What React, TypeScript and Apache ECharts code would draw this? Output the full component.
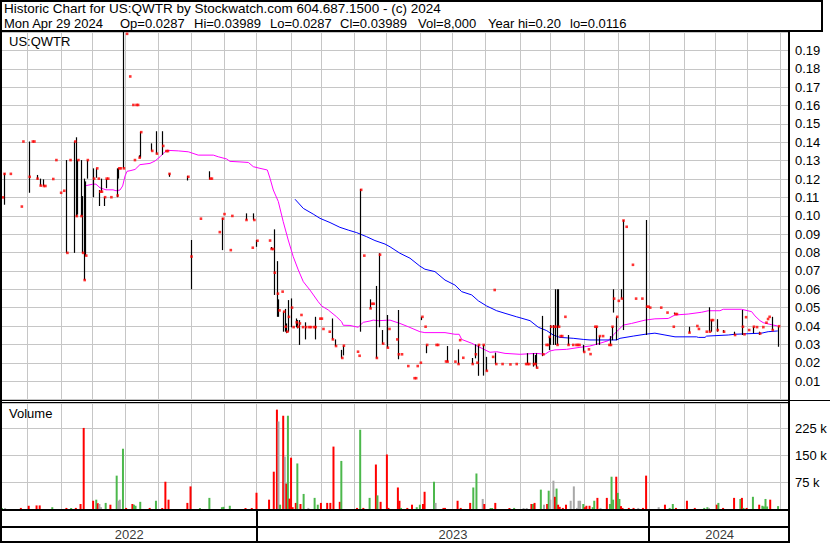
import React, { useEffect, useRef } from 'react';
import * as echarts from 'echarts';

// x positions are trading-session indices counted from the left edge of the chart
const X_MAX = 501.6;
const monthLines = [16.1, 37.4, 57.5, 78.5, 99.5, 120.5, 141.3, 162.1, 184.4, 203.5, 224.2, 244.4, 266.4, 286.8, 307.8, 329.7, 349.3, 370.7, 392, 412, 434.3, 454, 474.4, 495.6];
const yearStarts = [0, 162.1, 412];
const yearLabels = ['2022', '2023', '2024'];

// [session, high, low, close]  (two entries = single trade price)
const bars2022: number[][] = [
  [0, 0.110], [1, 0.1232, 0.106, 0.1228], [5, 0.1228], [12, 0.105], [13, 0.1404],
  [17, 0.1404, 0.1125, 0.1212], [19, 0.1404], [20, 0.1404], [22, 0.1222, 0.1198, 0.1202],
  [24, 0.1202, 0.1164, 0.1164], [26, 0.1198, 0.1162, 0.1162], [27, 0.1162], [32, 0.12],
  [34, 0.1303], [37, 0.1125], [39, 0.1136], [41, 0.1303, 0.0798, 0.0798], [43, 0.1303],
  [46, 0.1404, 0.0798, 0.1404], [47, 0.1427, 0.0995, 0.0998], [48, 0.1303, 0.1006, 0.1303],
  [50, 0.1303, 0.0998, 0.0998], [51, 0.1107, 0.0798, 0.0798], [52, 0.1202, 0.065, 0.065],
  [53, 0.1187, 0.0783, 0.0783], [54, 0.1303, 0.1202, 0.1303], [58, 0.1258, 0.1101, 0.1202],
  [60, 0.1258, 0.1207, 0.1258], [61, 0.1202], [62, 0.114, 0.1053, 0.1131],
  [63, 0.1202, 0.1131, 0.1131], [65, 0.1101, 0.1053, 0.1101], [66, 0.12, 0.115, 0.1202],
  [67, 0.1202], [69, 0.1101], [73, 0.1258, 0.1101, 0.111], [74, 0.1258, 0.1202, 0.1258],
  [75, 0.1258], [77, 0.2, 0.1258, 0.1258], [79, 0.199], [81, 0.1758], [83, 0.1603],
  [84, 0.1303], [85, 0.1603], [86, 0.1603], [87, 0.1329, 0.1316, 0.1316],
  [88, 0.1457, 0.1316, 0.1455], [95, 0.1394, 0.1353, 0.1353], [98, 0.146, 0.1338, 0.1338],
  [102, 0.146, 0.1331, 0.138], [104, 0.1352], [105, 0.1352], [106, 0.1231, 0.1212, 0.1228],
  [118, 0.1217, 0.1192, 0.1212], [120, 0.0868, 0.06, 0.0778], [126, 0.0984],
  [132, 0.1242, 0.1198, 0.1202], [133, 0.1202], [138, 0.0911], [140, 0.0988, 0.0813, 0.0984],
  [141, 0.1009], [145, 0.0813], [146, 0.0999], [155, 0.1013, 0.0977, 0.0977], [159, 0.0826],
  [160, 0.1013, 0.0977, 0.0977],
];
const bars2023: number[][] = [
  [162, 0.0868, 0.0831, 0.0864], [170, 0.0865], [171, 0.083, 0.0819, 0.0819], [172, 0.0819],
  [173, 0.0926, 0.0569, 0.069], [175, 0.0753, 0.045, 0.0576], [176, 0.0545, 0.045, 0.0485],
  [178, 0.0587], [179, 0.0478, 0.0369, 0.0478], [180, 0.0493, 0.0369, 0.0396],
  [181, 0.0414, 0.0361, 0.0369], [182, 0.0541, 0.0369, 0.045], [184, 0.055, 0.0393, 0.05],
  [185, 0.0394], [187, 0.0441, 0.0393, 0.042], [188, 0.0432, 0.0387, 0.0396],
  [189, 0.0432, 0.0297, 0.0414], [190, 0.046], [191, 0.0394], [193, 0.042, 0.0327, 0.0394],
  [195, 0.0394], [196, 0.0394], [198, 0.0394], [199, 0.045, 0.0327, 0.0394], [202, 0.044],
  [203, 0.044], [204, 0.0384], [208, 0.0369], [210, 0.0441, 0.0327, 0.0327],
  [212, 0.0327, 0.0291, 0.0291], [216, 0.027, 0.0224, 0.0226], [217, 0.0293, 0.024, 0.0293],
  [226, 0.026], [227, 0.0238], [228, 0.1145, 0.0369, 0.1141], [230, 0.0783],
  [234, 0.0545, 0.0496, 0.0496], [235, 0.0521], [236, 0.0521], [238, 0.0618, 0.0224, 0.0226],
  [240, 0.0796, 0.0393, 0.0788], [242, 0.0378, 0.0302, 0.0304], [245, 0.046, 0.0282, 0.0282],
  [246, 0.0384], [251, 0.0327], [252, 0.0487, 0.0219, 0.0246], [254, 0.0246], [258, 0.0182],
  [262, 0.0116], [263, 0.0116], [264, 0.0182], [266, 0.02], [267, 0.045, 0.0432, 0.045],
  [269, 0.0396], [270, 0.0297, 0.0252, 0.0297], [276, 0.0297], [277, 0.0297], [282, 0.0207],
  [283, 0.0291, 0.0206, 0.0206], [288, 0.0206], [290, 0.0273, 0.0193, 0.0193], [291, 0.0323],
  [293, 0.0227], [299, 0.0226, 0.0193, 0.0193], [301, 0.03, 0.0224, 0.0246], [302, 0.02],
  [303, 0.0297, 0.0129, 0.0297], [306, 0.0297, 0.013, 0.0297], [308, 0.0232, 0.0156, 0.0156],
  [312, 0.0232], [313, 0.0596], [314, 0.0255, 0.0193, 0.0193], [318, 0.0193], [323, 0.0191],
  [327, 0.0193], [333, 0.0193], [334, 0.0252, 0.0193, 0.0193], [335, 0.0193],
  [338, 0.0252, 0.0179, 0.0193], [339, 0.0242, 0.0193, 0.0193], [340, 0.0252, 0.0173, 0.0173],
  [344, 0.0455, 0.0236, 0.0246], [346, 0.0297], [347, 0.0297], [348, 0.0341, 0.0269, 0.0341],
  [349, 0.0405, 0.0297, 0.0396], [351, 0.0405, 0.0297, 0.0396], [352, 0.06, 0.0297, 0.0396],
  [353, 0.06, 0.0297, 0.0297], [354, 0.06, 0.0396, 0.0396], [355, 0.0345], [356, 0.0345],
  [358, 0.045], [360, 0.0351, 0.0297, 0.0297], [363, 0.0297], [365, 0.0297], [366, 0.0297],
  [367, 0.0297], [370, 0.0297, 0.0259, 0.0259], [373, 0.0273], [374, 0.0247], [377, 0.0396],
  [378, 0.0396, 0.0297, 0.0396], [380, 0.0345, 0.0297, 0.0345], [382, 0.0345], [386, 0.0297],
  [387, 0.0345, 0.0297, 0.0297], [388, 0.0396, 0.0323, 0.0396], [389, 0.06, 0.0473, 0.0549],
  [391, 0.045, 0.0323, 0.045], [392, 0.0537], [394, 0.06, 0.0549, 0.0549],
  [395, 0.0977, 0.0378, 0.0974], [397, 0.094], [401, 0.0733], [403, 0.0549], [407, 0.0549],
  [410, 0.0977, 0.0351, 0.0505], [411, 0.0505],
];
const bars2024: number[][] = [
  [412, 0.05], [419, 0.05], [423, 0.0473], [427, 0.0396], [428, 0.0473, 0.0465, 0.0465],
  [429, 0.0465], [437, 0.0396, 0.0364, 0.0364], [442, 0.04], [443, 0.0384], [448, 0.0369],
  [450, 0.0502, 0.0369, 0.0369], [451, 0.0432, 0.0369, 0.0432], [452, 0.0432],
  [455, 0.0437, 0.0369, 0.0378], [459, 0.0378, 0.0364, 0.0369], [466, 0.0369, 0.0351, 0.0351],
  [471, 0.0487, 0.0351, 0.0396], [472, 0.0355], [473, 0.0448], [475, 0.0378],
  [478, 0.0396, 0.0361, 0.0396], [480, 0.0394], [482, 0.0369, 0.0351, 0.0359], [484, 0.0394],
  [486, 0.0418], [487, 0.0438], [488, 0.045], [490, 0.045, 0.0378, 0.0378],
  [494, 0.03989, 0.0287, 0.03989],
];

// [session, volume, direction: 1 up, -1 down, 0 unchanged]
const volume2022: number[][] = [
  [0, 3000, 1], [2, 2000, 0], [12, 3000, -1], [17, 9000, -1], [22, 10000, -1], [24, 10000, -1],
  [32, 5000, 1], [41, 3000, -1], [44, 2000, 1], [47, 3000, -1], [50, 14000, -1], [52, 226000, -1],
  [58, 23000, -1], [60, 26000, 1], [61, 16000, -1], [62, 14000, 0], [63, 5000, 0], [66, 17000, 1],
  [69, 12000, -1], [73, 93000, 1], [74, 23000, 0], [75, 26000, 0], [77, 168000, 1], [79, 3000, -1],
  [83, 14000, -1], [84, 12000, 1], [85, 9000, 1], [88, 20000, 1], [94, 3000, -1], [98, 23000, 1],
  [102, 2000, -1], [104, 76000, -1], [106, 26000, -1], [118, 17000, -1], [120, 63000, -1],
  [126, 2000, 1], [132, 31000, 1], [140, 5000, 1], [141, 6000, 1], [145, 9000, 1], [155, 2000, -1],
  [159, 2000, -1], [162, 45000, -1],
];
const volume2023: number[][] = [
  [170, 26000, -1], [173, 104000, -1], [175, 277000, -1], [176, 244000, 0], [177, 12000, 1],
  [179, 260000, -1], [180, 146000, 0], [181, 71000, -1], [182, 260000, 1], [183, 29000, -1],
  [184, 143000, -1], [185, 5000, -1], [187, 17000, -1], [188, 127000, 1], [190, 14000, -1],
  [192, 42000, 1], [195, 3000, 0], [199, 31000, 1], [201, 12000, 1], [203, 17000, -1],
  [207, 17000, -1], [209, 17000, -1], [211, 174000, -1], [215, 20000, -1], [216, 134000, 1],
  [226, 3000, -1], [228, 221000, 1], [230, 3000, -1], [234, 31000, 1], [238, 124000, -1],
  [239, 38000, 1], [241, 20000, -1], [245, 152000, -1], [246, 3000, -1], [252, 60000, -1],
  [253, 23000, -1], [254, 3000, 1], [258, 3000, -1], [261, 12000, -1], [264, 5000, 1],
  [266, 12000, 1], [268, 14000, -1], [269, 48000, -1], [275, 76000, 1], [276, 17000, 0],
  [281, 3000, -1], [282, 3000, -1], [290, 23000, -1], [292, 3000, -1], [298, 17000, -1],
  [300, 60000, 1], [302, 99000, 1], [306, 28000, 0], [307, 14000, -1], [311, 2000, 1],
  [312, 2000, 1], [314, 17000, -1], [323, 2000, -1], [326, 3000, 1], [332, 2000, 0], [334, 2000, 0],
  [337, 14000, -1], [338, 14000, 1], [339, 17000, -1], [343, 54000, 1], [345, 12000, 0],
  [347, 14000, -1], [348, 51000, 1], [349, 26000, 0], [351, 79000, 0], [352, 34000, -1],
  [353, 57000, 1], [354, 12000, -1], [355, 6000, -1], [357, 3000, -1], [359, 12000, -1],
  [362, 23000, 0], [364, 63000, 0], [366, 3000, 0], [367, 23000, 0], [368, 23000, 0],
  [370, 14000, 1], [371, 5000, -1], [372, 9000, -1], [374, 9000, -1], [376, 5000, 1],
  [377, 23000, 1], [379, 31000, -1], [381, 3000, 0], [385, 31000, -1], [387, 14000, 1],
  [388, 90000, 1], [389, 26000, 1], [391, 90000, -1], [392, 45000, 1], [393, 28000, 1],
  [394, 8000, -1], [395, 3000, -1], [399, 3000, -1], [402, 3000, -1], [405, 3000, 0],
  [408, 3000, -1], [410, 93000, -1],
];
const volume2024: number[][] = [
  [418, 5000, 0], [422, 12000, -1], [425, 3000, 1], [427, 14000, 1], [429, 3000, -1],
  [436, 23000, -1], [441, 3000, -1], [447, 3000, 1], [449, 5000, 1], [450, 3000, 0],
  [455, 12000, -1], [456, 17000, 1], [459, 3000, -1], [466, 31000, -1], [470, 28000, 1],
  [471, 31000, -1], [472, 3000, 1], [474, 3000, -1], [478, 34000, 1], [482, 12000, -1],
  [484, 9000, 1], [485, 7000, 1], [486, 28000, 1], [487, 7000, 1], [489, 26000, -1],
  [494, 8000, 1],
];

// moving averages: [session, value]
const maShort: number[][] = [
  [53.5, 0.1164], [57.9, 0.1172], [59.8, 0.1172], [62.4, 0.1152], [66.2, 0.1141], [70.7, 0.1141],
  [72.6, 0.1136], [75.1, 0.114], [76.8, 0.1162], [78.3, 0.1216], [79.6, 0.1242], [81.5, 0.1245],
  [84.7, 0.1252], [87.8, 0.1278], [94.2, 0.1285], [97.4, 0.1298], [100.6, 0.1321], [103.7, 0.1348],
  [105.2, 0.1356], [112.2, 0.1353], [118.6, 0.1348], [124.9, 0.133], [134.5, 0.133], [137.7, 0.1321],
  [143, 0.1309], [145.1, 0.1296], [151.5, 0.1293], [156.8, 0.129], [160, 0.1267], [164.2, 0.1258],
  [168.9, 0.1249], [170.6, 0.1204], [172.7, 0.114], [175.9, 0.1077], [179, 0.0968], [182.2, 0.0868],
  [185.4, 0.0777], [188.6, 0.0705], [191.8, 0.0641], [196, 0.0596], [201.3, 0.0532], [203.5, 0.0509],
  [207.7, 0.0487], [213, 0.045], [216.2, 0.0423], [217.2, 0.0404], [221.5, 0.0403], [226.8, 0.0393],
  [227.9, 0.0404], [230, 0.042], [234.2, 0.0427], [236.3, 0.0432], [239.5, 0.0429], [247, 0.0432],
  [253.3, 0.0414], [258.6, 0.0396], [266, 0.0369], [269.2, 0.0364], [282, 0.0364], [288.3, 0.0355],
  [291, 0.0355], [292.6, 0.0327], [299, 0.0306], [305.3, 0.0279], [310.6, 0.0257], [314.9, 0.026],
  [320.2, 0.0251], [329.7, 0.0246], [340.3, 0.0251], [345.6, 0.0246], [348.8, 0.0264], [352, 0.027],
  [359.4, 0.0273], [367.9, 0.0284], [374.2, 0.0291], [380.6, 0.0306], [385.9, 0.032], [389.1, 0.0351],
  [392.3, 0.0378], [395.5, 0.0405], [400.8, 0.0414], [409.3, 0.0432], [415.6, 0.0439], [424.1, 0.0441],
  [428.4, 0.046], [436.8, 0.0465], [445.4, 0.0475], [449.6, 0.0483], [457, 0.0483], [459.1, 0.0491],
  [470.8, 0.0491], [477.2, 0.0478], [479.3, 0.0455], [482.5, 0.0429], [484.6, 0.0418], [488.8, 0.0409],
  [493.8, 0.04],
];
const maLong: number[][] = [
  [186.5, 0.109], [191.8, 0.104], [198.1, 0.1009], [202.4, 0.0986], [208.8, 0.0963], [215.1, 0.0937],
  [220.4, 0.0922], [225.8, 0.0908], [232.1, 0.0886], [237.4, 0.0865], [243.8, 0.0846], [247, 0.0831],
  [253.3, 0.0796], [259.7, 0.0769], [266, 0.0726], [269.2, 0.0709], [275.6, 0.0696], [282, 0.065],
  [288.3, 0.0623], [292.6, 0.0587], [299, 0.0569], [303.2, 0.0537], [308.5, 0.0509], [314.9, 0.0483],
  [320.2, 0.0469], [327.6, 0.045], [329.7, 0.0445], [336.1, 0.0429], [341.4, 0.0393], [346.7, 0.0375],
  [350.9, 0.0351], [355.2, 0.0338], [363.6, 0.0333], [370, 0.0327], [374.3, 0.0324], [391.3, 0.0324],
  [393.4, 0.0333], [401.8, 0.0345], [409.3, 0.0355], [415.6, 0.0361], [422, 0.0351], [428.4, 0.0341],
  [442.2, 0.0341], [443.2, 0.0338], [447.5, 0.0338], [448.5, 0.0345], [462.3, 0.0351], [466.5, 0.0355],
  [483.5, 0.0361], [487.7, 0.0369], [493.8, 0.0373],
];

const volumeTicks = [75000, 150000, 225000];

const headerLine1 = 'Historic Chart for US:QWTR by Stockwatch.com 604.687.1500 - (c) 2024';
const headerFields = ['Mon Apr 29 2024', 'Op=0.0287', 'Hi=0.03989', 'Lo=0.0287', 'Cl=0.03989', 'Vol=8,000', 'Year hi=0.20', 'lo=0.0116'];
const headerFieldX = [4, 120, 194, 270, 340, 418, 488, 570];

const FONT = '"Liberation Sans", Arial, sans-serif';
const GRID = '#c6c6c6';
const RED = '#ff0000';
const GREEN = '#4cb84c';
const GRAY = '#a8a8a8';

export default function App() {
  const ref = useRef<HTMLDivElement>(null);
  useEffect(() => {
    const chart = echarts.init(ref.current!, null, { renderer: 'svg' });
    const bars = [...bars2022, ...bars2023, ...bars2024];
    const vols = [...volume2022, ...volume2023, ...volume2024];
    const rangeData = bars.filter(r => r.length >= 3).map(r => [r[0], r[2], r[1]]);
    const closeData = bars.map(r => [r[0], r.length >= 4 ? r[3] : r[1]]);
    const volData = vols.map(r => ({
      value: [r[0], r[1]],
      itemStyle: { color: r[2] > 0 ? GREEN : r[2] < 0 ? RED : GRAY },
    }));
    const yearData = yearLabels.map((name, i) => ({
      name,
      value: [(yearStarts[i] + (i + 1 < yearStarts.length ? yearStarts[i + 1] : X_MAX)) / 2, 0.23],
    }));
    const gridMark = {
      silent: true,
      animation: false,
      z: 1,
      symbol: ['none', 'none'],
      label: { show: false },
      lineStyle: { color: GRID, width: 1, type: 'solid' },
      data: monthLines.map(v => ({ xAxis: v })),
    };
    const txt = (text: string, x: number, y: number, size = 13) => ({
      type: 'text', x, y, z: 100,
      style: { text, fontSize: size, fontFamily: FONT, fill: '#000', verticalAlign: 'middle' },
    });
    const box = (x: number, y: number, width: number, height: number) => ({
      type: 'rect', z: 100, shape: { x, y, width, height }, style: { fill: '#000' },
    });

    const option: any = {
      animation: false,
      backgroundColor: '#ffffff',
      grid: [
        { left: 2, top: 32, width: 788, height: 367.5 },
        { left: 2, top: 403, width: 788, height: 106 },
        { left: 2, top: 511, width: 788, height: 31 },
      ],
      xAxis: [0, 1, 2].map(i => ({ type: 'value', gridIndex: i, min: 0, max: X_MAX, show: false })),
      yAxis: [
        {
          type: 'value', gridIndex: 0, position: 'right', min: 0, max: 0.2, interval: 0.01,
          axisLine: { show: false }, axisTick: { show: false },
          splitLine: { show: true, lineStyle: { color: GRID, width: 1 } },
          axisLabel: {
            margin: 5, color: '#000', fontSize: 13, fontFamily: FONT,
            formatter: (v: number) => (v > 0.001 && v < 0.1995 ? v.toFixed(2) : ''),
          },
        },
        {
          type: 'value', gridIndex: 1, position: 'right', min: 0, max: 295500, interval: 75000,
          axisLine: { show: false }, axisTick: { show: false },
          splitLine: { show: true, lineStyle: { color: GRID, width: 1 } },
          axisLabel: {
            margin: 5, color: '#000', fontSize: 13, fontFamily: FONT,
            formatter: (v: number) => (volumeTicks.includes(v) ? `${v / 1000} k` : ''),
          },
        },
        { type: 'value', gridIndex: 2, min: 0, max: 1, show: false },
      ],
      series: [
        {
          type: 'line', xAxisIndex: 0, yAxisIndex: 0, data: [[0, 0]], showSymbol: false,
          lineStyle: { opacity: 0 }, z: 1, silent: true, markLine: gridMark,
        },
        {
          type: 'line', xAxisIndex: 1, yAxisIndex: 1, data: [[0, 0]], showSymbol: false,
          lineStyle: { opacity: 0 }, z: 1, silent: true, markLine: gridMark,
        },
        {
          type: 'line', name: 'MA short', xAxisIndex: 0, yAxisIndex: 0, data: maShort,
          showSymbol: false, z: 2, lineStyle: { color: '#ff00ff', width: 1 }, itemStyle: { color: '#ff00ff' },
        },
        {
          type: 'line', name: 'MA long', xAxisIndex: 0, yAxisIndex: 0, data: maLong,
          showSymbol: false, z: 2, lineStyle: { color: '#0000ff', width: 1 }, itemStyle: { color: '#0000ff' },
        },
        {
          type: 'custom', xAxisIndex: 0, yAxisIndex: 0, z: 3, data: rangeData,
          encode: { x: 0, y: [1, 2] },
          renderItem: (_p: any, api: any) => {
            const a = api.coord([api.value(0), api.value(1)]);
            const b = api.coord([api.value(0), api.value(2)]);
            const x = Math.round(a[0]) + 0.5;
            return {
              type: 'line',
              shape: { x1: x, y1: a[1], x2: x, y2: b[1] },
              style: { stroke: '#000', lineWidth: 1.2 },
            };
          },
        },
        {
          type: 'scatter', xAxisIndex: 0, yAxisIndex: 0, z: 4, data: closeData,
          symbol: 'rect', symbolSize: 2.6, symbolOffset: [1, 0], itemStyle: { color: RED },
        },
        {
          type: 'bar', xAxisIndex: 1, yAxisIndex: 1, z: 3, data: volData,
          barWidth: 2, barMinHeight: 1,
        },
        {
          type: 'scatter', xAxisIndex: 2, yAxisIndex: 2, data: yearData, symbolSize: 1,
          itemStyle: { color: 'rgba(0,0,0,0)' }, silent: true,
          label: { show: true, position: 'inside', formatter: '{b}', color: '#000', fontSize: 13, fontFamily: FONT },
          markLine: {
            silent: true, animation: false, symbol: ['none', 'none'], label: { show: false },
            lineStyle: { color: '#000', width: 2, type: 'solid' },
            data: yearStarts.slice(1).map(v => ({ xAxis: v })),
          },
        },
      ],
      graphic: [
        box(0, 0, 823, 2),
        box(0, 30, 823, 2),
        box(821, 0, 2, 32),
        box(0, 0, 2, 543),
        box(788, 30, 2, 513),
        box(0, 400, 790, 1),
        box(0, 402, 790, 1),
        box(790, 400, 40, 1),
        box(0, 509, 790, 2),
        box(0, 526, 790, 2),
        box(0, 541, 790, 2),
        txt(headerLine1, 4, 8, 13.5),
        ...headerFields.map((f, i) => txt(f, headerFieldX[i], 23.5)),
        txt('US:QWTR', 9, 41),
        txt('Volume', 9, 413),
      ],
    };
    chart.setOption(option);
    return () => chart.dispose();
  }, []);
  return (
    <div
      ref={ref}
      style={{ position: 'fixed', left: 0, top: 0, width: 830, height: 543, background: '#fff' }}
    />
  );
}
